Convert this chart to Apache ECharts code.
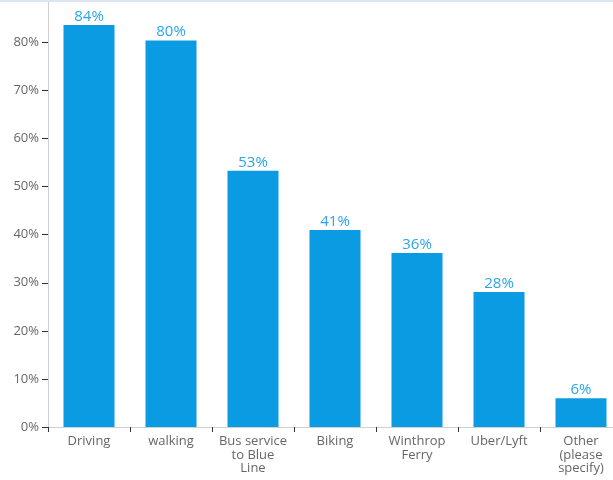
<!DOCTYPE html>
<html><head><meta charset="utf-8">
<script src="https://cdn.jsdelivr.net/npm/echarts@6/dist/echarts.min.js"></script>
<style>html,body{margin:0;padding:0;background:#fff;overflow:hidden}#c{width:622px;height:480px}</style>
</head><body><div id="c"></div>
<script>
const categories = ['Driving', 'walking', 'Bus service\nto Blue\nLine', 'Biking', 'Winthrop\nFerry', 'Uber/Lyft', 'Other\n(please\nspecify)'];
const values = [83.6, 80.4, 53.3, 41.0, 36.2, 28.1, 6.0];
const yTicks = [0, 10, 20, 30, 40, 50, 60, 70, 80];

const chart = echarts.init(document.getElementById('c'), null, {renderer: 'canvas'});
chart.setOption({
  animation: false,
  backgroundColor: '#fff',
  graphic: [{type: 'rect', shape: {x: 0, y: 0, width: 622, height: 2}, style: {fill: '#dde5f0'}, z: 100}],
  grid: {left: 48, top: 2, right: 0, height: 425, containLabel: false},
  xAxis: {
    type: 'category', data: categories,
    axisLine: {lineStyle: {color: '#d0d0d0'}},
    axisTick: {show: true, alignWithLabel: false, length: 5, lineStyle: {color: '#333'}},
    axisLabel: {color: '#666', fontFamily: 'Open Sans', fontSize: 13, lineHeight: 13.5, margin: 8, interval: 0}
  },
  yAxis: {
    type: 'value', min: 0, max: 88.4, interval: 10,
    axisLine: {show: true, lineStyle: {color: '#d0d0d0'}},
    axisTick: {show: true, length: 6, lineStyle: {color: '#333'}},
    splitLine: {show: false},
    axisLabel: {color: '#666', fontFamily: 'Open Sans', fontSize: 13, margin: 9, showMaxLabel: false,
      formatter: v => yTicks.includes(v) ? v + '%' : ''}
  },
  series: [{
    type: 'bar', data: values, barWidth: 51,
    itemStyle: {color: '#0b9be3'},
    label: {show: true, position: 'top', distance: 1, color: '#2aa5e8', fontFamily: 'Open Sans', fontSize: 15,
      formatter: p => Math.round(p.value) + '%'}
  }]
});
</script></body></html>
